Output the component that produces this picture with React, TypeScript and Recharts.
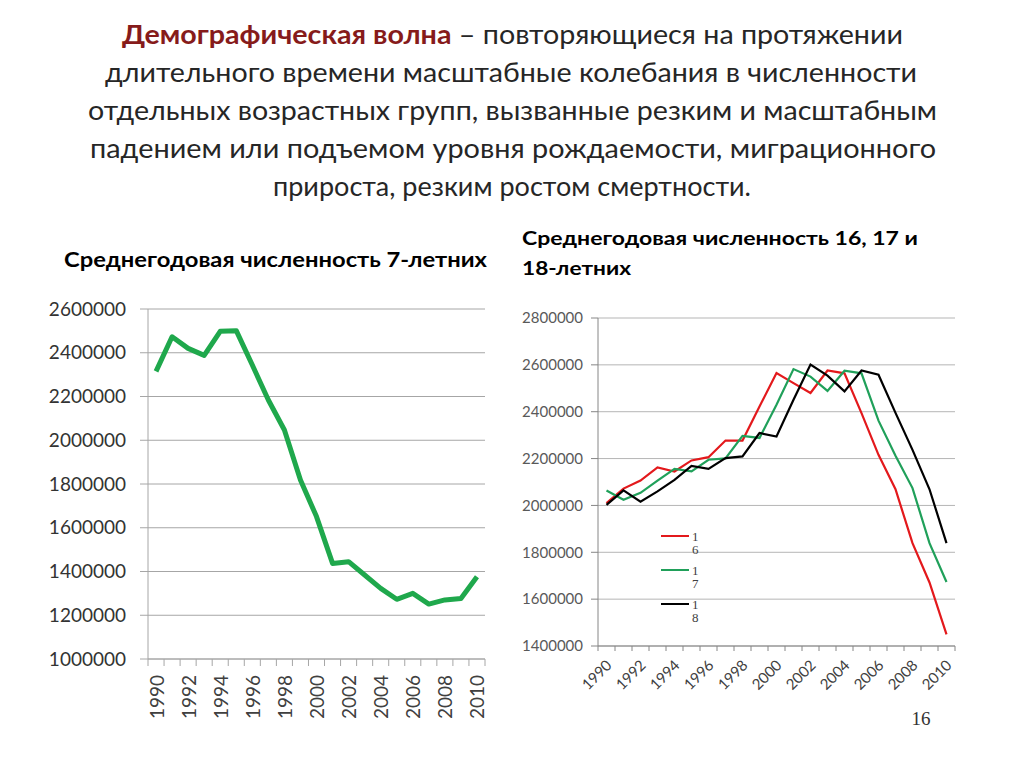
import React from 'react';
import { LineChart, Line, XAxis, YAxis, CartesianGrid, Legend } from 'recharts';

const YEARS = [1990, 1991, 1992, 1993, 1994, 1995, 1996, 1997, 1998, 1999, 2000, 2001, 2002, 2003, 2004, 2005, 2006, 2007, 2008, 2009, 2010];
const AGE7 = [2315000, 2473000, 2420000, 2388000, 2498000, 2501000, 2344000, 2184000, 2047000, 1818000, 1651000, 1437000, 1445000, 1384000, 1323000, 1273000, 1300000, 1251000, 1270000, 1277000, 1376000];
const AGE16 = [2010000, 2072000, 2106000, 2162000, 2145000, 2192000, 2206000, 2277000, 2277000, 2422000, 2565000, 2522000, 2480000, 2576000, 2564000, 2394000, 2216000, 2069000, 1839000, 1671000, 1450000];
const AGE17 = [2064000, 2024000, 2054000, 2106000, 2156000, 2145000, 2195000, 2201000, 2297000, 2288000, 2430000, 2582000, 2550000, 2489000, 2575000, 2564000, 2362000, 2212000, 2074000, 1839000, 1673000];
const AGE18 = [2002000, 2064000, 2016000, 2060000, 2109000, 2169000, 2156000, 2202000, 2209000, 2309000, 2294000, 2451000, 2601000, 2554000, 2487000, 2576000, 2558000, 2395000, 2237000, 2069000, 1839000];

const LEFT_TICKS = [1000000, 1200000, 1400000, 1600000, 1800000, 2000000, 2200000, 2400000, 2600000];
const RIGHT_TICKS = [1400000, 1600000, 1800000, 2000000, 2200000, 2400000, 2600000, 2800000];

const SERIES_NAMES = ['16', '17', '18'];

const TITLE_LINES = [
  'длительного времени масштабные колебания в численности',
  'отдельных возрастных групп, вызванные резким и масштабным',
  'падением или подъемом уровня рождаемости, миграционного',
  'прироста, резким ростом смертности.',
];
const TITLE_BOLD = 'Демографическая волна';
const TITLE_FIRST_REST = ' – повторяющиеся на протяжении';
const LEFT_TITLE = 'Среднегодовая численность 7-летних';
const RIGHT_TITLE_1 = 'Среднегодовая численность 16, 17 и';
const RIGHT_TITLE_2 = '18-летних';
const PAGE_NO = '16';

const leftData = YEARS.map((y, i) => ({ year: y, v: AGE7[i] }));
const rightData = YEARS.map((y, i) => ({ year: y, a16: AGE16[i], a17: AGE17[i], a18: AGE18[i] }));

const FONT = "Lato, 'Open Sans', sans-serif";

// geometry
const L_W = 500, L_H = 450, L_M = { top: 19, right: 15, bottom: 0, left: 0 }, L_YW = 148, L_XH = 81;
const L_PLOT_W = L_W - L_M.left - L_M.right - L_YW;
const R_W = 460, R_H = 420, R_M = { top: 18, right: 15, bottom: 0, left: 0 }, R_YW = 88, R_XH = 74;
const R_PLOT_W = R_W - R_M.left - R_M.right - R_YW;

const LeftXTick = (props: any) => {
  const { x, y, payload } = props;
  const bw = L_PLOT_W / YEARS.length;
  const v = payload.value;
  return (
    <g>
      <line x1={x - bw / 2} x2={x - bw / 2} y1={y} y2={y + 7} stroke="#A6A6A6" strokeWidth={1} />
      {v === YEARS[YEARS.length - 1] && (
        <line x1={x + bw / 2} x2={x + bw / 2} y1={y} y2={y + 7} stroke="#A6A6A6" strokeWidth={1} />
      )}
      {v % 2 === 0 && (
        <text x={x} y={y + 16} transform={`rotate(-90, ${x}, ${y + 16})`} textAnchor="end" dominantBaseline="central"
          fontFamily={FONT} fontSize={19} fill="#404040">{v}</text>
      )}
    </g>
  );
};

const RightXTick = (props: any) => {
  const { x, y, payload } = props;
  const bw = R_PLOT_W / YEARS.length;
  const v = payload.value;
  const ax = x + 2, ay = y + 16;
  return (
    <g>
      <line x1={x - bw / 2} x2={x - bw / 2} y1={y} y2={y + 5} stroke="#868686" strokeWidth={1} />
      {v === YEARS[YEARS.length - 1] && (
        <line x1={x + bw / 2} x2={x + bw / 2} y1={y} y2={y + 5} stroke="#868686" strokeWidth={1} />
      )}
      {v % 2 === 0 && (
        <text x={ax} y={ay} transform={`rotate(-45, ${ax}, ${ay})`} textAnchor="end" dominantBaseline="central"
          fontFamily={FONT} fontSize={15} fill="#404040">{v}</text>
      )}
    </g>
  );
};

const renderLegend = (props: any) => {
  const payload = props.payload || [];
  return (
    <div style={{ display: 'flex', flexDirection: 'column' }}>
      {payload.map((e: any) => (
        <div key={e.value} style={{ display: 'flex', alignItems: 'flex-start', height: 34 }}>
          <div style={{ width: 28, height: 2.5, background: e.color, marginTop: 5.25 }} />
          <div style={{ width: 8, marginLeft: 3, wordBreak: 'break-all', fontFamily: "'Liberation Serif', serif", fontSize: 13, lineHeight: '13px', color: '#404040' }}>{e.value}</div>
        </div>
      ))}
    </div>
  );
};

export default function App() {
  return (
    <div style={{ position: 'absolute', left: 0, top: 0, width: 1024, height: 768, background: '#fff', overflow: 'hidden' }}>
      <svg width={1024} height={768} style={{ position: 'absolute', left: 0, top: 0 }}>
        <text x={122} y={44} textLength={781} lengthAdjust="spacingAndGlyphs" fontFamily={FONT} fontSize={27} fill="#262626">
          <tspan fontWeight={700} fill="#861B1B">{TITLE_BOLD}</tspan>
          <tspan>{TITLE_FIRST_REST}</tspan>
        </text>
        {TITLE_LINES.map((t, i) => {
          const spans = [[105, 917], [88, 937], [90, 936], [273, 751]][i];
          return (
            <text key={i} x={spans[0]} y={82 + i * 38} textLength={spans[1] - spans[0]} lengthAdjust="spacingAndGlyphs"
              fontFamily={FONT} fontSize={27} fill="#262626">{t}</text>
          );
        })}
        <text x={64} y={267} textLength={423} lengthAdjust="spacingAndGlyphs" fontFamily={FONT} fontSize={20} fontWeight={700} fill="#000">{LEFT_TITLE}</text>
        <text x={522} y={245} textLength={396} lengthAdjust="spacingAndGlyphs" fontFamily={FONT} fontSize={18} fontWeight={700} fill="#000">{RIGHT_TITLE_1}</text>
        <text x={522} y={275} textLength={109} lengthAdjust="spacingAndGlyphs" fontFamily={FONT} fontSize={18} fontWeight={700} fill="#000">{RIGHT_TITLE_2}</text>
        <text x={921} y={725} textAnchor="middle" fontFamily="'Liberation Serif', serif" fontSize={19} fill="#333">{PAGE_NO}</text>
      </svg>

      <div style={{ position: 'absolute', left: 0, top: 290 }}>
        <LineChart width={L_W} height={L_H} data={leftData} margin={L_M}>
          <CartesianGrid vertical={false} stroke="#A6A6A6" strokeWidth={1} />
          <XAxis dataKey="year" type="number" domain={[1989.5, 2010.5]} ticks={YEARS} interval={0} height={L_XH}
            tick={<LeftXTick />} tickLine={false} tickSize={0} tickMargin={0} axisLine={{ stroke: '#A6A6A6' }} />
          <YAxis type="number" domain={[1000000, 2600000]} ticks={LEFT_TICKS} interval={0} width={L_YW}
            tick={{ fontFamily: FONT, fontSize: 19, fill: '#333' }} tickSize={8} tickMargin={14}
            tickLine={{ stroke: '#A6A6A6' }} axisLine={{ stroke: '#A6A6A6' }} />
          <Line type="linear" dataKey="v" stroke="#1FA84C" strokeWidth={5} dot={false} isAnimationActive={false} strokeLinejoin="round" />
        </LineChart>
      </div>

      <div style={{ position: 'absolute', left: 510, top: 300 }}>
        <LineChart width={R_W} height={R_H} data={rightData} margin={R_M}>
          <CartesianGrid vertical={false} stroke="#B5B5B5" strokeWidth={1} />
          <XAxis dataKey="year" type="number" domain={[1989.5, 2010.5]} ticks={YEARS} interval={0} height={R_XH}
            tick={<RightXTick />} tickLine={false} tickSize={0} tickMargin={0} axisLine={{ stroke: '#868686' }} />
          <YAxis type="number" domain={[1400000, 2800000]} ticks={RIGHT_TICKS} interval={0} width={R_YW}
            tick={{ fontFamily: FONT, fontSize: 15, fill: '#595959' }} tickSize={7} tickMargin={8}
            tickLine={{ stroke: '#868686' }} axisLine={{ stroke: '#868686' }} />
          <Legend content={renderLegend} layout="horizontal" verticalAlign="middle" align="center"
            wrapperStyle={{ left: 151, top: 229.5, width: 60 }} />
          <Line type="linear" dataKey="a16" name={SERIES_NAMES[0]} stroke="#E3191C" strokeWidth={2.2} dot={false} isAnimationActive={false} />
          <Line type="linear" dataKey="a17" name={SERIES_NAMES[1]} stroke="#20A05A" strokeWidth={2.2} dot={false} isAnimationActive={false} />
          <Line type="linear" dataKey="a18" name={SERIES_NAMES[2]} stroke="#000000" strokeWidth={2.2} dot={false} isAnimationActive={false} />
        </LineChart>
      </div>
    </div>
  );
}
